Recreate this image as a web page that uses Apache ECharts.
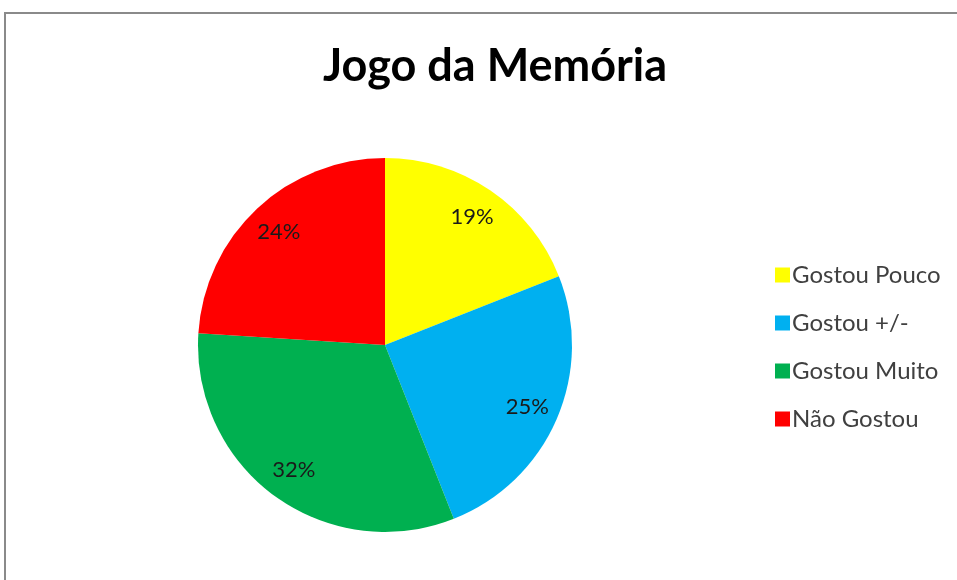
<!DOCTYPE html>
<html>
<head>
<meta charset="utf-8" />
<script src="https://cdn.jsdelivr.net/npm/echarts@6/dist/echarts.min.js"></script>
<title>Jogo da Memória</title>
<style>
  html, body { margin: 0; padding: 0; background: #fff; }
  #main { width: 957px; height: 580px; }
</style>
</head>
<body>
<div id="main"></div>
<script>
var categories = ['Gostou Pouco', 'Gostou +/-', 'Gostou Muito', 'Não Gostou'];
var values = [19, 25, 32, 24];
var colors = ['#FFFF00', '#00B0F0', '#00B050', '#FF0000'];

var pieData = categories.map(function (name, i) {
  return { name: name, value: values[i], itemStyle: { color: colors[i] } };
});

var chart = echarts.init(document.getElementById('main'));
var font = 'Lato, "Open Sans", sans-serif';

chart.setOption({
  backgroundColor: '#ffffff',
  animation: false,
  title: {
    text: 'Jogo da Memória',
    left: 490,
    textAlign: 'center',
    top: 39,
    textStyle: { fontFamily: font, fontSize: 45, fontWeight: 'bold', color: '#000' }
  },
  legend: {
    orient: 'vertical',
    left: 770,
    top: 258,
    icon: 'rect',
    itemWidth: 15,
    itemHeight: 15,
    itemGap: 24,
    data: categories,
    textStyle: { fontFamily: font, fontSize: 24, color: '#404040', padding: [0, 0, 0, -3] }
  },
  graphic: [{
    type: 'polyline',
    shape: { points: [[5, 580], [5, 13], [957, 13]] },
    style: { stroke: '#8a8a8a', lineWidth: 2, fill: null }
  }],
  series: [
    {
      type: 'pie',
      center: [385, 345],
      radius: 187,
      startAngle: 90,
      clockwise: true,
      label: { show: false },
      labelLine: { show: false },
      emphasis: { disabled: true },
      data: pieData
    },
    {
      type: 'pie',
      center: [385, 345],
      radius: [114, 190],
      startAngle: 90,
      clockwise: true,
      silent: true,
      legendHoverLink: false,
      itemStyle: { color: 'rgba(0,0,0,0)' },
      label: {
        show: true,
        position: 'inside',
        formatter: '{d}%',
        fontFamily: font,
        fontSize: 22,
        color: '#1a1a1a'
      },
      labelLine: { show: false },
      data: categories.map(function (name, i) {
        return { name: name + ' ', value: values[i] };
      })
    }
  ]
});
</script>
</body>
</html>
